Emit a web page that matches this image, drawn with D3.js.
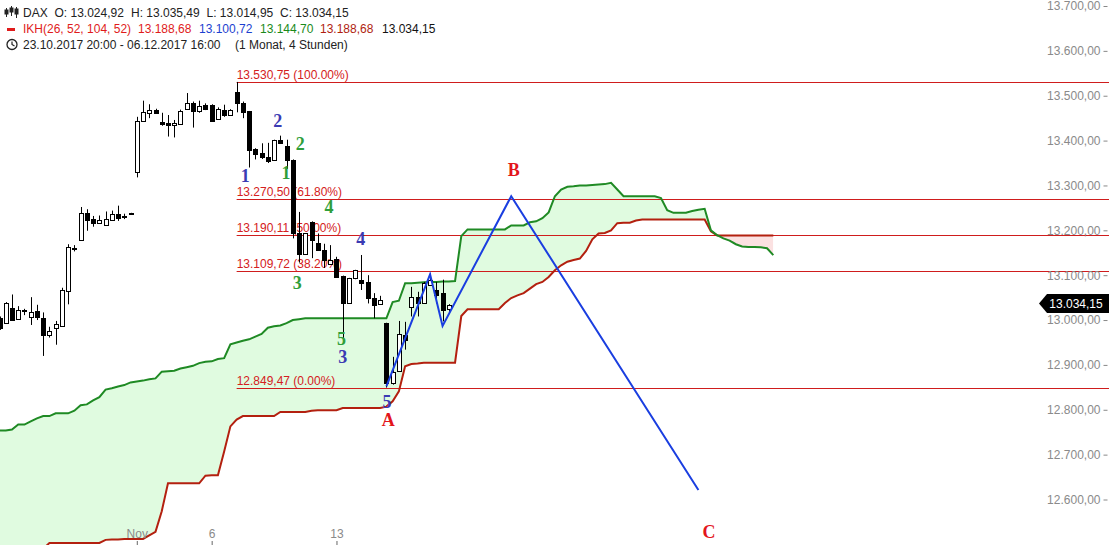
<!DOCTYPE html>
<html><head><meta charset="utf-8">
<script src="https://cdn.jsdelivr.net/npm/d3@7"></script>
<style>
body{margin:0;background:#fff;}
svg{display:block;font-family:"Liberation Sans",Arial,sans-serif;}
</style>
</head><body>
<svg id="c" width="1109" height="545"></svg>
<script>
// ---------- data ----------
const candleOpen  = [13005,12994,13026,13002,13022,13006,13021,13005,12967,12983,12987,13065,13161,13178,13239,13225,13217,13212,13224,13237,13233,13237,
13331,13443,13462,13468,13442,13440,13435,13438,13470,13484,13465,13479,13480,13448,13469,13457,13508,13484,13465,13382,13372,13364,13357,13402,13387,13357,
13194,13148,13218,13172,13156,13125,13137,13098,13039,13093,13089,13085,13049,13035,12993,12860,12886,12967,13030,13052,13037,13078,13067,13060,13024.92];
const candleHigh  = [13008,13040,13057,13031,13025,13051,13034,13017,12985,12998,13072,13169,13167,13252,13247,13232,13233,13242,13244,13255,13237,13239,
13453,13489,13481,13471,13462,13457,13446,13469,13506,13487,13489,13483,13481,13474,13480,13470,13530.75,13487,13466,13383,13394,13395,13402,13411,13402,13358,
13241,13193,13220,13193,13170,13167,13141,13099,13094,13112,13145,13100,13060,13054,12994,12918,12998,12996,13074,13063,13085,13104,13085,13090,13035.49];
const candleLow   = [12978,12993,12998,13001,13011,12989,13000,12920,12961,12945,12985,13035,13153,13177,13199,13208,13216,13212,13223,13221,13225,13236,
13318,13442,13450,13460,13433,13409,13407,13437,13469,13429,13462,13468,13442,13447,13453,13456,13463,13450,13340,13358,13359,13350,13356,13393,13337,13182,
13128,13147,13138,13155,13116,13124,13095,12960,13038,13091,13067,13037,13004,13035,12849.47,12856,12885,12934,13008,13008,13037,13077,13037,12997,13014.95];
const candleClose = [12983,13039,13000,13022,13020,13018,13006,12967,12976,12992,13068,13163,13159,13239,13224,13216,13222,13225,13237,13228,13230,13238,
13443,13463,13468,13462,13437,13435,13440,13466,13484,13465,13477,13470,13444,13471,13456,13468,13483,13463,13380,13369,13364,13355,13401,13395,13357,13193,
13148,13193,13178,13157,13133,13133,13096,13039,13093,13111,13083,13049,13034,13045,12860,12884,12969,12956,13052,13037,13082,13089,13056,13022,13034.15];

// Ichimoku leading spans (displaced 52 periods ahead), one value per period index 0..124
const spanA = [12754,12754,12756,12767,12767,12774,12781,12786,12786,12792,12792,12792,12798,12810,12812,12821,12828,12845,12848,12852,12855,12861,12863,12865,12868,12870,
12885,12886,12887,12892,12895,12898,12904,12907,12908,12913,12915,12946,12950,12954,12957,12963,12969,12983,12986,12988,12993,13000,13002,
13004,13004,13004,13004,13004,13004,13004,13004,13004,13004,13004,13004,13004,13004,
13040,13043,13082,13082,13083,13084,13085,13085,13086,13086,13087,13187,13202,13202,13202,13202,13202,13202,13202,13211,13211,13211,13218,13220,13227,13240,
13276,13291,13297,13298,13300,13300,13301,13302,13303,13306,13291,13276,13276,13276,13276,13276,13276,13272,13245,13239,13239,13239,13243,13246,13248,
13200,13189,13182,13177,13169,13164,13163,13163,13162,13160,13144.70];
const spanB = [12490,12490,12490,12490,12490,12490,12490,12490,12503,12503,12503,12503,12503,12503,12503,12503,12503,12510,12511,12511,12512,12512,12512,12512,12520,12528,
12574,12636,12636,12636,12636,12636,12636,12653,12654,12654,12707,12763,12778,12786,12786,12786,12786,12786,12786,12795,12795,12795,12795,12795,12798,
12799,12799,12799,12799,12804,12804,12804,12804,12804,12804,12804,12807,12819,12841,12897,12902,12903,12905,12905,12905,12905,12905,12905,
13009,13024,13024,13024,13024,13024,13024,13038,13049,13055,13060,13070,13080,13085,13096,13111,13122,13130,13134,13137,13154,13180,13193,13194,13200,
13216,13217,13217,13222,13224,13224,13224,13224,13224,13224,13224,13224,13224,13224,13224,13198,
13188.68,13188.68,13188.68,13188.68,13188.68,13188.68,13188.68,13188.68,13188.68,13188.68];

const fibValues = [13530.75,13270.50,13190.11,13109.72,12849.47];
const fibLabels = ["13.530,75 (100.00%)","13.270,50 (61.80%)","13.190,11 (50.00%)","13.109,72 (38.20%)","12.849,47 (0.00%)"];
const fibStartIdx = 38;

const yTicks = [12600,12700,12800,12900,13000,13100,13200,13300,13400,13500,13600,13700];
const xTickIdx = [22,34,54];
const xTickLabels = ["Nov","6","13"];

const waveText  = ["1","2","1","2","3","4","4","5","3","5","A","B","C"];
const waveIdx   = [39.4,44.6,45.9,48.2,47.7,52.8,57.9,54.8,55.0,62.1,62.3,82.4,113.7];
const waveVal   = [13320,13444,13327,13393,13082,13253,13180,12957,12917,12818,12778,13335,12528];
const waveColor = ["b","b","g","g","g","g","b","g","b","b","r","r","r"];

const zigIdx = [62,69,71,82,112];
const zigVal = [12852,13102,12987,13276,12621];

const lastClose = 13034.15;

// ---------- scales ----------
const W = 1109, H = 545;
const svg = d3.select("#c");
const x = d3.scaleLinear().domain([0,124]).range([-0.5,773.3]);
const y = d3.scaleLinear().domain([12600,13700]).range([499.5,6]);
const colors = {b:"#3b3bb3", g:"#2f9e3a", r:"#e3151b"};
const fmt = d3.formatLocale({decimal:",",thousands:".",grouping:[3],currency:["",""]}).format(",.2f");

// ---------- cloud ----------
const idx = d3.range(spanA.length);
const band = d3.area().x(i=>x(i)).y0(i=>y(spanA[i])).y1(i=>y(spanB[i]));
const defs = svg.append("defs");
defs.append("clipPath").attr("id","aboveB").append("path")
  .attr("d", d3.area().x(i=>x(i)).y0(0).y1(i=>y(spanB[i]))(idx));
defs.append("clipPath").attr("id","belowB").append("path")
  .attr("d", d3.area().x(i=>x(i)).y0(H).y1(i=>y(spanB[i]))(idx));
svg.append("path").attr("d",band(idx)).attr("fill","#e0fbe0").attr("clip-path","url(#aboveB)");
svg.append("path").attr("d",band(idx)).attr("fill","#fbe1e1").attr("clip-path","url(#belowB)");

// ---------- fib lines ----------
const fibG = svg.append("g");
fibValues.forEach((v,k)=>{
  const yy = Math.round(y(v))+0.5;
  fibG.append("line").attr("x1",x(fibStartIdx)).attr("x2",W).attr("y1",yy).attr("y2",yy)
    .attr("stroke","#cf1d1d").attr("stroke-width",1);
  fibG.append("text").attr("x",x(fibStartIdx)).attr("y",yy-4).text(fibLabels[k])
    .attr("fill","#d42020").attr("font-size",12);
});

// ---------- span lines ----------
const lineA = d3.line().x(i=>x(i)).y(i=>y(spanA[i]));
const lineB = d3.line().x(i=>x(i)).y(i=>y(spanB[i]));
svg.append("path").attr("d",lineB(idx)).attr("fill","none").attr("stroke","#b3200f").attr("stroke-width",2);
svg.append("path").attr("d",lineA(idx)).attr("fill","none").attr("stroke","#1f8a24").attr("stroke-width",2);

// ---------- candles ----------
const cg = svg.append("g");
candleOpen.forEach((o,i)=>{
  const c = candleClose[i], hi = candleHigh[i], lo = candleLow[i];
  const cx = Math.round(x(i));
  cg.append("line").attr("x1",cx+0.5).attr("x2",cx+0.5).attr("y1",y(hi)).attr("y2",y(lo))
    .attr("stroke","#000").attr("stroke-width",1);
  const top = Math.round(y(Math.max(o,c))), bot = Math.round(y(Math.min(o,c)));
  const hgt = Math.max(1, bot-top);
  cg.append("rect").attr("x",cx-1.5).attr("y",top+0.5).attr("width",4).attr("height",hgt)
    .attr("fill", c>=o ? "#fff" : "#000").attr("stroke","#000").attr("stroke-width",1);
});

// ---------- zigzag ----------
svg.append("path").attr("d", d3.line().x(i=>x(zigIdx[i])).y(i=>y(zigVal[i]))(d3.range(zigIdx.length)))
  .attr("fill","none").attr("stroke","#1a3ee0").attr("stroke-width",2);

// ---------- wave labels ----------
waveText.forEach((t,k)=>{
  svg.append("text").attr("x",x(waveIdx[k])).attr("y",y(waveVal[k]))
    .attr("text-anchor","middle").attr("dominant-baseline","central")
    .attr("font-family","'Liberation Serif','DejaVu Serif',serif").attr("font-weight","bold")
    .attr("font-size",18).attr("fill",colors[waveColor[k]]).text(t);
});

// ---------- right axis ----------
const ax = svg.append("g").attr("transform","translate(1107.5,0)")
  .call(d3.axisLeft(y).tickValues(yTicks).tickFormat(fmt).tickSize(4).tickPadding(3));
ax.select(".domain").remove();
ax.selectAll("line").attr("stroke","#888");
ax.selectAll("text").attr("fill","#8a8a8a").attr("font-size",12).attr("font-family","'Liberation Sans',Arial,sans-serif");

// ---------- bottom axis ----------
const bx = svg.append("g").attr("transform",`translate(0,${H})`)
  .call(d3.axisTop(x).tickValues(xTickIdx).tickFormat((d,k)=>xTickLabels[k]).tickSize(4).tickPadding(3));
bx.select(".domain").remove();
bx.selectAll("line").attr("stroke","#666");
bx.selectAll("text").attr("fill","#8a8a8a").attr("font-size",12).attr("font-family","'Liberation Sans',Arial,sans-serif");

// ---------- price marker ----------
const py = Math.round(y(lastClose))-1.5;
svg.append("path").attr("d",`M1039,${py} L1047,${py-9.5} L${W},${py-9.5} L${W},${py+9.5} L1047,${py+9.5} Z`).attr("fill","#000");
svg.append("text").attr("x",1076).attr("y",py).attr("text-anchor","middle").attr("dominant-baseline","central")
  .attr("fill","#fff").attr("font-size",12).text(fmt(lastClose));

// ---------- header ----------
const hd = svg.append("g").attr("font-size",12).attr("fill","#222");
const ic = hd.append("g").attr("stroke","#222").attr("stroke-width",1);
[[6.5,8,17,10,14],[11.5,6,16,8,12],[16.5,7,18,9,14]].forEach(d=>{
  ic.append("line").attr("x1",d[0]).attr("x2",d[0]).attr("y1",d[1]).attr("y2",d[2]);
  ic.append("rect").attr("x",d[0]-1.5).attr("y",d[3]).attr("width",3).attr("height",d[4]-d[3]).attr("fill","#222");
});
const line1 = [["DAX",23],["O: 13.024,92",54.5],["H: 13.035,49",131],["L: 13.014,95",206.5],["C: 13.034,15",280]];
line1.forEach(d=>hd.append("text").attr("x",d[1]).attr("y",17).text(d[0]));
hd.append("rect").attr("x",7).attr("y",28).attr("width",8).attr("height",3).attr("fill","#e01b1b");
const line2 = [["IKH(26, 52, 104, 52)",23,"#e01b1b"],["13.188,68",138,"#e01b1b"],["13.100,72",199,"#1c3fd0"],
  ["13.144,70",260,"#1a8a1a"],["13.188,68",320,"#b01e10"],["13.034,15",382,"#111"]];
line2.forEach(d=>hd.append("text").attr("x",d[1]).attr("y",33).attr("fill",d[2]).text(d[0]));
hd.append("circle").attr("cx",12).attr("cy",44.5).attr("r",5).attr("fill","none").attr("stroke","#222").attr("stroke-width",1.3);
hd.append("path").attr("d","M12,41.5 L12,44.5 L14.5,46").attr("fill","none").attr("stroke","#222").attr("stroke-width",1.2);
hd.append("text").attr("x",23).attr("y",49).text("23.10.2017 20:00 - 06.12.2017 16:00");
hd.append("text").attr("x",235).attr("y",49).text("(1 Monat, 4 Stunden)");
</script>
</body></html>
